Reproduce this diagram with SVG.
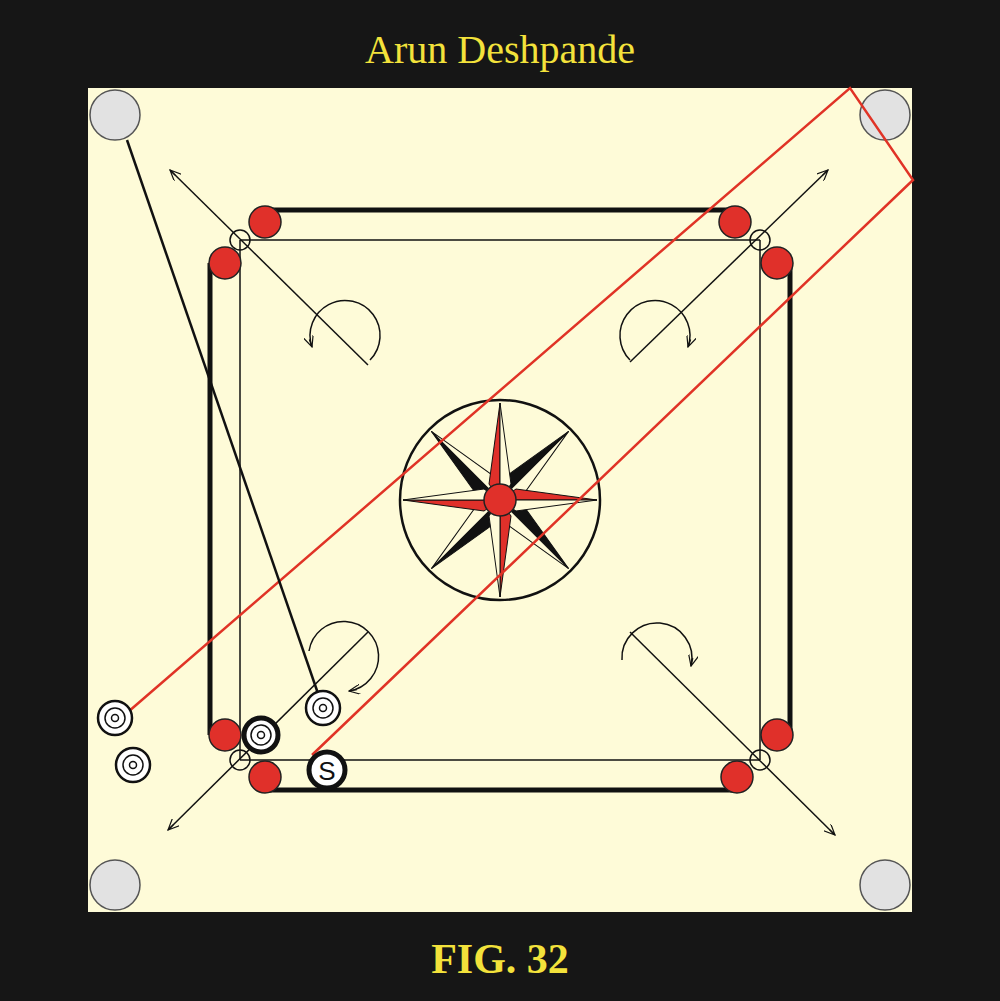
<svg xmlns="http://www.w3.org/2000/svg" width="1000" height="1001" viewBox="0 0 1000 1001">
<defs>
<style>
.t{stroke:#111;fill:none}
.red{fill:#e0302a;stroke:#222;stroke-width:1.5}
.oc{fill:none;stroke:#111;stroke-width:1.5}
.rl{stroke:#e03326;stroke-width:2.5;fill:none}
.coin{fill:#fff;stroke:#111}
</style>
<marker id="ah" viewBox="0 0 12 10" refX="11" refY="5" markerWidth="12" markerHeight="10" markerUnits="userSpaceOnUse" orient="auto"><path d="M0,0 L11,5 L0,10 M3,5 L11,5" fill="none" stroke="#111" stroke-width="1.2"/></marker>
<g id="pt"><polygon points="0,-97 -11,-16 0,0" fill="#e0302a" stroke="#111" stroke-width="1"/><polygon points="0,-97 11,-16 0,0" fill="#fffbd9" stroke="#111" stroke-width="1"/></g>
<g id="pd"><polygon points="0,-97 -13,-18 0,0" fill="#111" stroke="#111" stroke-width="1"/><polygon points="0,-97 13,-18 0,0" fill="#fffbd9" stroke="#111" stroke-width="1"/></g>
</defs>
<rect width="1000" height="1001" fill="#161616"/>
<rect x="88" y="88" width="824" height="824" fill="#fefbd8"/>
<text x="500" y="63" text-anchor="middle" font-family="Liberation Serif, serif" font-size="40" fill="#f3e23b">Arun Deshpande</text>
<text x="500" y="973" text-anchor="middle" font-family="Liberation Serif, serif" font-size="42" font-weight="bold" fill="#f3e23b">FIG. 32</text>
<g id="pockets" fill="#e2e2e2" stroke="#555" stroke-width="1.5">
<circle cx="115" cy="115" r="25"/><circle cx="885" cy="115" r="25"/><circle cx="115" cy="885" r="25"/><circle cx="885" cy="885" r="25"/>
</g>
<g id="baselines" class="t">
<line x1="265" y1="210" x2="735" y2="210" stroke-width="5"/><line x1="240" y1="240" x2="760" y2="240" stroke-width="1.5"/>
<line x1="265" y1="790" x2="737" y2="790" stroke-width="5"/><line x1="240" y1="760" x2="760" y2="760" stroke-width="1.5"/>
<line x1="210" y1="263" x2="210" y2="735" stroke-width="5"/><line x1="240" y1="240" x2="240" y2="760" stroke-width="1.5"/>
<line x1="790" y1="263" x2="790" y2="735" stroke-width="5"/><line x1="760" y1="240" x2="760" y2="760" stroke-width="1.5"/>
</g>
<g id="arrows" class="t" stroke-width="1.5">
<line x1="368" y1="365" x2="170" y2="170" marker-end="url(#ah)"/>
<line x1="630" y1="362" x2="828" y2="170" marker-end="url(#ah)"/>
<line x1="368" y1="632" x2="168" y2="830" marker-end="url(#ah)"/>
<line x1="630" y1="632" x2="835" y2="835" marker-end="url(#ah)"/>
<path d="M370,360 A35,35 0 1 0 312,347" marker-end="url(#ah)"/>
<path d="M630,360 A35,35 0 1 1 688,347" marker-end="url(#ah)"/>
<path d="M309,651 A35,35 0 1 1 349,691" marker-end="url(#ah)"/>
<path d="M622,660 A35,35 0 1 1 691,666" marker-end="url(#ah)"/>
</g>
<g id="corners">
<circle class="oc" cx="240" cy="240" r="10"/><circle class="oc" cx="760" cy="240" r="10"/><circle class="oc" cx="240" cy="760" r="10"/><circle class="oc" cx="760" cy="760" r="10"/>
<circle class="red" cx="265" cy="222" r="16"/><circle class="red" cx="735" cy="222" r="16"/>
<circle class="red" cx="225" cy="263" r="16"/><circle class="red" cx="225" cy="735" r="16"/>
<circle class="red" cx="777" cy="263" r="16"/><circle class="red" cx="777" cy="735" r="16"/>
<circle class="red" cx="265" cy="777" r="16"/><circle class="red" cx="737" cy="777" r="16"/>
</g>
<g id="center">
<circle cx="500" cy="500" r="100" fill="none" stroke="#111" stroke-width="2.5"/>
<g transform="translate(500,500)">
<use href="#pd" transform="rotate(45)"/><use href="#pd" transform="rotate(135)"/><use href="#pd" transform="rotate(225)"/><use href="#pd" transform="rotate(315)"/>
<use href="#pt"/><use href="#pt" transform="rotate(90)"/><use href="#pt" transform="rotate(180)"/><use href="#pt" transform="rotate(270)"/>
</g>
<circle class="red" cx="500" cy="500" r="16"/>
</g>
<g id="shot">
<polyline class="rl" points="128,712 850,88 913,180 312,755"/>
<line x1="127" y1="140" x2="323" y2="708" stroke="#111" stroke-width="2.5"/>
</g>
<g id="coins">
<g transform="translate(115,718)"><circle class="coin" r="17" stroke-width="2.5"/><circle class="oc" r="10" stroke-width="2.5"/><circle class="oc" r="3.5" stroke-width="2"/></g>
<g transform="translate(133,765)"><circle class="coin" r="17" stroke-width="2.5"/><circle class="oc" r="10" stroke-width="2.5"/><circle class="oc" r="3.5" stroke-width="2"/></g>
<g transform="translate(323,708)"><circle class="coin" r="17" stroke-width="2.5"/><circle class="oc" r="10" stroke-width="2.5"/><circle class="oc" r="3.5" stroke-width="2"/></g>
<g transform="translate(261,735)"><circle class="coin" r="17" stroke-width="5"/><circle class="oc" r="10" stroke-width="2.5"/><circle class="oc" r="3.5" stroke-width="2"/></g>
<g transform="translate(327,770)"><circle class="coin" r="18" stroke-width="5"/><text y="10" text-anchor="middle" font-family="Liberation Sans, sans-serif" font-size="26" fill="#111">S</text></g>
</g>
</svg>
